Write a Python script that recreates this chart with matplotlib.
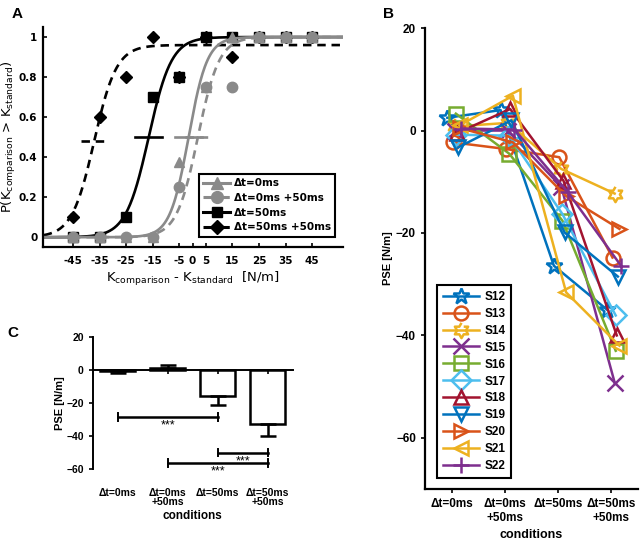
import numpy as np
import matplotlib
matplotlib.use("Agg")
import matplotlib.pyplot as plt

plt.rcParams["font.family"] = ["DejaVu Sans"]
plt.rcParams["mathtext.default"] = "regular"

# --- panel A: psychometric data -------------------------------------------
k_diff = [-45, -35, -25, -15, -5, 5, 15, 25, 35, 45]
p_dt0 = [0, 0, 0, 0, 0.375, 0.75, 1, 1, 1, 1]
p_dt0_50 = [0, 0, 0, 0, 0.25, 0.75, 0.75, 1, 1, 1]
p_dt50 = [0, 0, 0.1, 0.7, 0.8, 1, 1, 1, 1, 1]
p_dt50_50 = [0.1, 0.6, 0.8, 1.0, 0.8, 1.0, 0.9, 1, 1, 1]
# fitted logistic parameters (pse, slope, upper asymptote)
fit_dt0 = (-1.5, 3.5, 1.0)
fit_dt0_50 = (2.0, 4.0, 1.0)
fit_dt50 = (-16.5, 4.3, 1.0)
fit_dt50_50 = (-37.0, 4.2, 0.96)
a_labels = ["Δt=0ms", "Δt=0ms +50ms", "Δt=50ms", "Δt=50ms +50ms"]

# --- panel B: individual PSE ----------------------------------------------
subjects = ["S12", "S13", "S14", "S15", "S16", "S17", "S18", "S19", "S20", "S21", "S22"]
pse_S12 = [2.5, 4.0, -26.4, -35.0]
pse_S13 = [-2.3, -3.6, -5.2, -24.8]
pse_S14 = [0.8, 1.5, -7.5, -12.3]
pse_S15 = [0.0, 0.0, -11.0, -49.2]
pse_S16 = [3.3, -4.5, -17.6, -43.0]
pse_S17 = [-0.8, -1.0, -16.3, -36.1]
pse_S18 = [-0.5, 4.2, -9.8, -40.0]
pse_S19 = [-3.3, 2.0, -19.9, -28.5]
pse_S20 = [0.5, -2.3, -12.8, -19.2]
pse_S21 = [1.0, 6.8, -31.6, -42.0]
pse_S22 = [0.4, 0.2, -12.0, -26.4]
x_jitter = [-0.08, 0.02, 0.06, 0.06, 0.08, 0.08, 0.1, 0.12, 0.15, 0.15, 0.18]
b_ticklabels = ["Δt=0ms", "Δt=0ms\n+50ms", "Δt=50ms", "Δt=50ms\n+50ms"]

# --- panel C: group mean ----------------------------------------------------
c_means = [-0.8, 1.0, -16.0, -32.5]
c_sem = [0.8, 2.2, 5.0, 7.5]
c_ticklabels = ["Δt=0ms", "Δt=0ms\n+50ms", "Δt=50ms", "Δt=50ms\n+50ms"]
sig_pairs = [(1, 3, -28.5), (3, 4, -50.0), (2, 4, -56.5)]

GRAY = "#8a8a8a"
MATLAB = ["#0072BD", "#D95319", "#EDB120", "#7E2F8E", "#77AC30",
          "#4DBEEE", "#A2142F", "#0072BD", "#D95319", "#EDB120", "#7E2F8E"]

ang = np.deg2rad(90 + 30 * np.arange(12))
rad = np.where(np.arange(12) % 2 == 0, 1.0, 1 / np.sqrt(3))
hexagram = list(zip(rad * np.cos(ang), rad * np.sin(ang)))
b_markers = ["*", "o", hexagram, "x", "s", "D", "^", "v", ">", "<", "+"]

fig = plt.figure(figsize=(6.4, 5.41), dpi=100)


def logistic(x, pse, s, top):
    return top / (1 + np.exp(-(x - pse) / s))


# ================= A =================
ax = fig.add_axes([0.067, 0.543, 0.469, 0.407])
xx = np.linspace(-56, 57, 400)
dash = (0, (3.2, 2.2))
series = [
    (p_dt50, fit_dt50, "black", "-", "s", 6.5),
    (p_dt50_50, fit_dt50_50, "black", dash, "D", 6.5),
    (p_dt0, fit_dt0, GRAY, "-", "^", 7.5),
    (p_dt0_50, fit_dt0_50, GRAY, dash, "o", 7.5),
]
handles = {}
for ys, fit, col, ls, mk, ms in series:
    ax.plot(xx, logistic(xx, *fit), color=col, ls=ls, lw=1.9)
    ax.plot(k_diff, ys, ls="none", marker=mk, color=col, ms=ms)
    ax.plot([fit[0] - 5, fit[0] + 5], [fit[2] / 2] * 2, color=col, ls=ls, lw=1.9)
    handles[(col, mk)] = ax.plot([], [], color=col, ls=ls, lw=2.2, marker=mk, ms=ms + 1)[0]
leg_h = [handles[(GRAY, "^")], handles[(GRAY, "o")], handles[("black", "s")], handles[("black", "D")]]
leg = ax.legend(leg_h, a_labels, loc="lower right", bbox_to_anchor=(0.99, 0.025),
                fancybox=False, edgecolor="black", framealpha=1, handlelength=2.6,
                labelspacing=0.45, borderpad=0.4, handletextpad=0.3,
                prop={"weight": "bold", "size": 7.5})
leg.get_frame().set_linewidth(1.5)

ax.set_xlim(-56.3, 56.6)
ax.set_ylim(-0.05, 1.05)
ax.set_xticks([-45, -35, -25, -15, -5, 0, 5, 15, 25, 35, 45])
ax.set_xticklabels(["-45", "-35", "-25", "-15", "-5", "0", "5", "15", "25", "35", "45"])
ax.set_yticks([0, 0.2, 0.4, 0.6, 0.8, 1])
ax.set_yticklabels(["0", "0.2", "0.4", "0.6", "0.8", "1"])
ax.tick_params(direction="in", length=3, width=1.2, labelsize=7.5)
ax.tick_params(axis="x", pad=6)
ax.tick_params(axis="y", pad=4)
for t in ax.get_xticklabels() + ax.get_yticklabels():
    t.set_fontweight("bold")
for s in ["top", "right"]:
    ax.spines[s].set_visible(False)
for s in ["left", "bottom"]:
    ax.spines[s].set_linewidth(1.6)
ax.set_xlabel("K$_{comparison}$ - K$_{standard}$  [N/m]", fontsize=9.5, labelpad=3)
ax.set_ylabel("P(K$_{comparison}$ > K$_{standard}$)", fontsize=9.5)
ax.yaxis.set_label_coords(-0.082, 0.5)
fig.text(0.018, 0.975, "A", fontsize=11, fontweight="bold", family="Liberation Sans", va="center")

# ================= B =================
bx = fig.add_axes([0.664, 0.096, 0.333, 0.852])
all_pse = [pse_S12, pse_S13, pse_S14, pse_S15, pse_S16, pse_S17,
           pse_S18, pse_S19, pse_S20, pse_S21, pse_S22]
conds = np.arange(1, 5)
for name, vals, col, mk, jit in zip(subjects, all_pse, MATLAB, b_markers, x_jitter):
    ms = 12 if mk in ("*", "+", "x") else 10
    if mk is hexagram:
        ms = 11
    bx.plot(conds + jit, vals, color=col, lw=1.8, marker=mk, ms=ms,
            mfc="none", mew=1.8, label=name)
lb = bx.legend(loc="lower left", bbox_to_anchor=(0.03, 0.012), fancybox=False,
               edgecolor="black", framealpha=1, handlelength=3.1, labelspacing=0.42,
               borderpad=0.45, handletextpad=0.45,
               prop={"weight": "bold", "size": 8.5, "family": "Liberation Sans"})
lb.get_frame().set_linewidth(1.5)
bx.set_xlim(0.5, 4.5)
bx.set_ylim(-70, 20)
bx.set_xticks(conds)
bx.set_xticklabels(b_ticklabels)
bx.set_yticks([-60, -40, -20, 0, 20])
bx.tick_params(direction="out", length=3, width=1.2, labelsize=8.5)
for t in bx.get_xticklabels() + bx.get_yticklabels():
    t.set_fontweight("bold")
    t.set_family("Liberation Sans")
for s in ["top", "right"]:
    bx.spines[s].set_visible(False)
for s in ["left", "bottom"]:
    bx.spines[s].set_linewidth(1.6)
bx.set_xlabel("conditions", fontsize=9, fontweight="bold", family="Liberation Sans", labelpad=4)
bx.set_ylabel("PSE [N/m]", fontsize=8, fontweight="bold", family="Liberation Sans", labelpad=2)
fig.text(0.598, 0.975, "B", fontsize=11, fontweight="bold", family="Liberation Sans", va="center")

# ================= C =================
cx = fig.add_axes([0.145, 0.133, 0.3125, 0.244])
lower = [e if m < 0 else 0 for m, e in zip(c_means, c_sem)]
upper = [e if m >= 0 else 0 for m, e in zip(c_means, c_sem)]
cx.bar(conds, c_means, width=0.7, color="white", edgecolor="black", linewidth=1.8,
       yerr=[lower, upper], capsize=6,
       error_kw={"elinewidth": 1.8, "capthick": 1.8, "ecolor": "black"})
for a, b, y in sig_pairs:
    cx.plot([a, b], [y, y], color="black", lw=1.8, clip_on=False)
    cx.plot([a, a], [y - 2.3, y + 2.3], color="black", lw=1.4, clip_on=False)
    cx.plot([b, b], [y - 2.3, y + 2.3], color="black", lw=1.4, clip_on=False)
    cx.text((a + b) / 2, y - 1.5, "***", ha="center", va="top", fontsize=9,
            family="Liberation Sans")
cx.set_xlim(0.5, 4.5)
cx.set_ylim(-60, 20)
cx.set_yticks([-60, -40, -20, 0, 20])
cx.set_xticks(conds)
cx.set_xticklabels([])
cx.spines["bottom"].set_position(("data", 0))
cx.spines["bottom"].set_linewidth(1.4)
cx.spines["left"].set_linewidth(1.4)
for s in ["top", "right"]:
    cx.spines[s].set_visible(False)
cx.tick_params(direction="out", length=3, width=1.2, labelsize=7.5)
for t in cx.get_yticklabels():
    t.set_fontweight("bold")
    t.set_family("Liberation Sans")
for x, lab in zip(conds, c_ticklabels):
    cx.text(x, -0.14, lab, transform=cx.get_xaxis_transform(), ha="center", va="top",
            fontsize=7.5, fontweight="bold", family="Liberation Sans", linespacing=0.95)
cx.text(2.5, -0.31, "conditions", transform=cx.get_xaxis_transform(), ha="center",
        va="top", fontsize=8.5, fontweight="bold", family="Liberation Sans")
cx.set_ylabel("PSE [N/m]", fontsize=8, fontweight="bold", family="Liberation Sans", labelpad=1)
fig.text(0.012, 0.385, "C", fontsize=11, fontweight="bold", family="Liberation Sans", va="center")

fig.savefig("out.png", dpi=100)
